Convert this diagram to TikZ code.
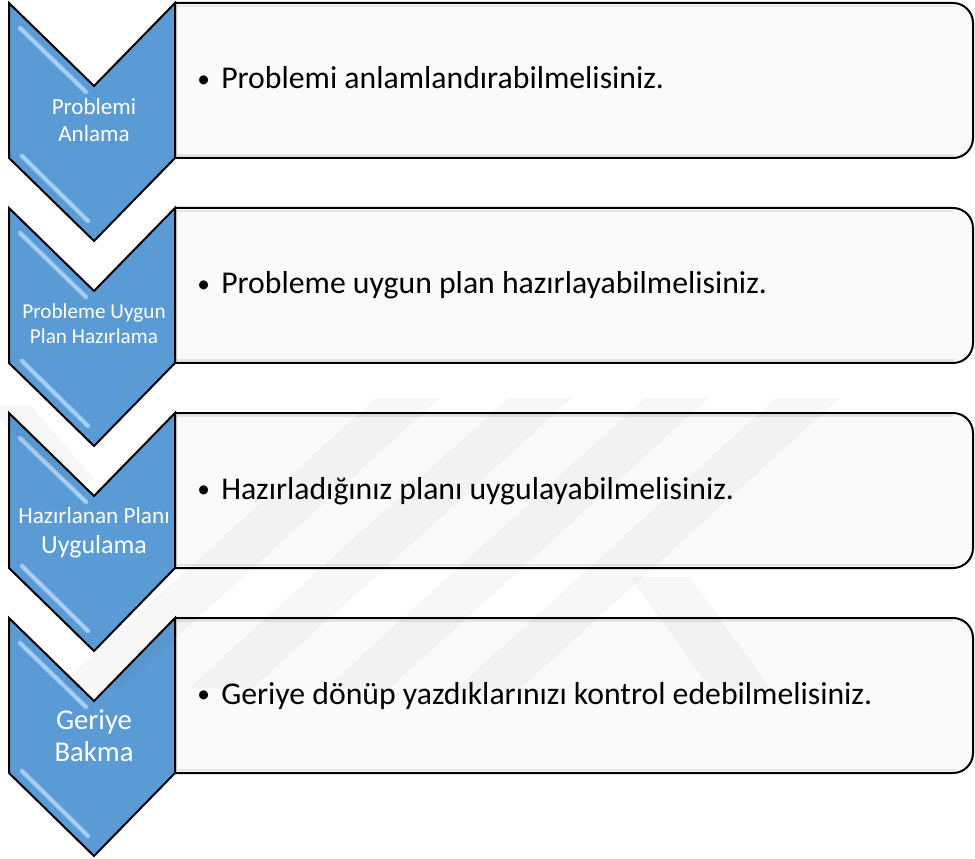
\documentclass[tikz,border=0pt]{standalone}
\usepackage{fontspec}
\setmainfont{Carlito}
\definecolor{chev}{RGB}{91,155,213}
\definecolor{hil}{RGB}{165,208,246}
\definecolor{boxfill}{RGB}{250,250,250}
\newcommand{\itembullet}{\makebox[18pt][l]{\raisebox{1.2pt}{\fontsize{19}{20}\selectfont •}}}
\begin{document}
\begin{tikzpicture}[x=0.75pt,y=-0.75pt,
  chevshape/.style={fill=chev,draw=black,line width=1.5pt,line join=miter},
  hiline/.style={draw=hil,line width=3.5pt,line cap=round,opacity=0.8},
  hicore/.style={draw=white,line width=0.8pt,line cap=round,opacity=0.35},
  boxshape/.style={fill=boxfill,draw=black,line width=1.5pt},
  boxshade/.style={draw=black!10,line width=1.2pt},
  chevtext/.style={text=white,inner sep=0pt,anchor=base,align=center},
  itemtext/.style={text=black,inner sep=0pt,anchor=base west,font=\fontsize{23.8}{28}\selectfont},
  wmark/.style={fill=black,opacity=0.03}]
\useasboundingbox (0,0) rectangle (975,859);

% boxes and chevrons
\foreach \t in {3,208,413,618}{
  \draw[boxshape] (175,\t) -- (953,\t) arc[start angle=-90,end angle=0,radius=20]
     -- (973,\t+135) arc[start angle=0,end angle=90,radius=20] -- (175,\t+155) -- cycle;
  \draw[boxshade] (177,\t+152) -- (955,\t+152);
  \draw[boxshade] (177,\t+3) -- (953,\t+3);
  \draw[chevshape] (9,\t) -- (94,\t+83) -- (175,\t) -- (175,\t+155) -- (94,\t+238) -- (9,\t+155) -- cycle;
  \draw[hiline] (20,\t+25) -- (86,\t+89);
  \draw[hicore] (20,\t+25) -- (86,\t+89);
  \draw[hiline] (22,\t+153) -- (88,\t+218);
  \draw[hicore] (22,\t+153) -- (88,\t+218);
}

% chevron labels
\node[chevtext,font=\fontsize{17.3}{20}\selectfont] (c1a) at (94,115) {Problemi};
\node[chevtext,font=\fontsize{17.3}{20}\selectfont] (c1b) at (94,142) {Anlama};
\node[chevtext,font=\fontsize{15.9}{19}\selectfont] (c2a) at (94,319) {Probleme Uygun};
\node[chevtext,font=\fontsize{15.9}{19}\selectfont] (c2b) at (94,344) {Plan Hazırlama};
\node[chevtext,font=\fontsize{17.4}{20}\selectfont] (c3a) at (94,523) {Hazırlanan Planı};
\node[chevtext,font=\fontsize{19.5}{23}\selectfont] (c3b) at (94,553) {Uygulama};
\node[chevtext,font=\fontsize{21.5}{25}\selectfont] (c4a) at (94,729) {Geriye};
\node[chevtext,font=\fontsize{21.5}{25}\selectfont] (c4b) at (94,761) {Bakma};

% item texts
\node[itemtext] (t1) at (197,89) {\itembullet Problemi anlamlandırabilmelisiniz.};
\node[itemtext] (t2) at (197,294) {\itembullet Probleme uygun plan hazırlayabilmelisiniz.};
\node[itemtext] (t3) at (197,499) {\itembullet Hazırladığınız planı uygulayabilmelisiniz.};
\node[itemtext] (t4) at (197,704) {\itembullet Geriye dönüp yazdıklarınızı kontrol edebilmelisiniz.};

% faint watermark
\foreach \x in {376,508,645,776}{
  \fill[wmark] (\x,398) -- (\x+64,398) -- (\x+64-319,688) -- (\x-319,688) -- cycle;
}
\fill[wmark] (630,577) -- (690,577) -- (770,688) -- (710,688) -- cycle;
\fill[wmark] (0,405) -- (30,405) -- (95,480) -- (65,480) -- (0,420) -- cycle;
\end{tikzpicture}
\end{document}
